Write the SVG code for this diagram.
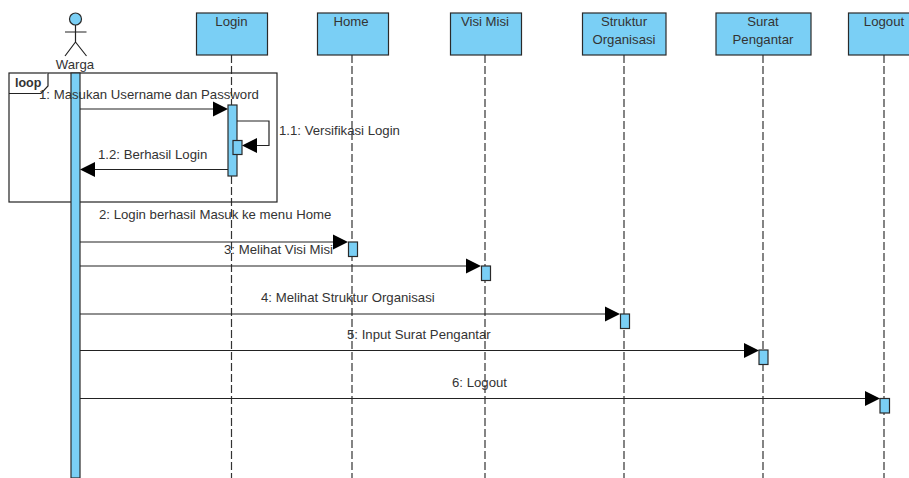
<svg xmlns="http://www.w3.org/2000/svg" width="909" height="478" viewBox="0 0 909 478">
<style>
text{font-family:"Liberation Sans",Arial,sans-serif;font-size:13.200px;fill:#333}
.c{text-anchor:middle}
.box{fill:#7acff5;stroke:#2a2a2a;stroke-width:1.200}
.act{fill:#7acff5;stroke:#2a2a2a;stroke-width:1.200}
.life{stroke:#333;stroke-width:1.200;stroke-dasharray:8 3;fill:none}
.msg{stroke:#222;stroke-width:1.200;fill:none}
.head{fill:#000;stroke:none}
</style>
<rect width="909" height="478" fill="#fff"/>
<g id="lifelines">
<path class="life" d="M231.500 55V478"/>
<path class="life" d="M352 55V478"/>
<path class="life" d="M485 55V478"/>
<path class="life" d="M624 55V478"/>
<path class="life" d="M763 55V478"/>
<path class="life" d="M884 55V478"/>
</g>
<g id="loop-frame">
<rect x="9" y="73" width="268" height="129" fill="none" stroke="#222" stroke-width="1.200"/>
<path d="M9 93.500H41L48 86V73" fill="#fff" stroke="#222" stroke-width="1.200"/>
<text x="15" y="87" style="font-weight:bold;font-size:12.500px">loop</text>
</g>
<g id="warga">
<circle cx="75.500" cy="19" r="6" class="box"/>
<path d="M75.500 25V42M65 32H86.500M75.500 42L65 56M75.500 42L86.500 56" fill="none" stroke="#222" stroke-width="1.200"/>
<text x="75" y="69" class="c">Warga</text>
<rect x="71" y="73" width="9" height="405" class="act"/>
</g>
<g id="login">
<rect x="196.500" y="13" width="71" height="42" class="box"/>
<text x="231.500" y="26" class="c">Login</text>
<rect x="228" y="105" width="9" height="71" class="act"/>
<rect x="233" y="140.500" width="9" height="14" class="act"/>
</g>
<g id="home">
<rect x="317.500" y="13" width="71" height="42" class="box"/>
<text x="351" y="26" class="c">Home</text>
<rect x="348.500" y="242" width="9" height="14.500" class="act"/>
</g>
<g id="visi-misi">
<rect x="450.500" y="13" width="71" height="42" class="box"/>
<text x="485" y="26" class="c">Visi Misi</text>
<rect x="481.500" y="266" width="9" height="14.500" class="act"/>
</g>
<g id="struktur-organisasi">
<rect x="582.500" y="13" width="83.500" height="42" class="box"/>
<text x="624" y="26" class="c">Struktur</text>
<text x="624" y="44" class="c">Organisasi</text>
<rect x="620.500" y="314" width="9" height="14.500" class="act"/>
</g>
<g id="surat-pengantar">
<rect x="716" y="13" width="95" height="42" class="box"/>
<text x="763" y="26" class="c">Surat</text>
<text x="763" y="44" class="c">Pengantar</text>
<rect x="759" y="350" width="9" height="14.500" class="act"/>
</g>
<g id="logout">
<rect x="848.500" y="13" width="72" height="42" class="box"/>
<text x="884" y="26" class="c">Logout</text>
<rect x="880" y="398.500" width="9.500" height="14.500" class="act"/>
</g>
<g id="connectors">
<path class="msg" d="M80 109H213"/><path class="head" d="M213 101.500L228 109L213 116.500Z"/>
<path class="msg" d="M237 121H269V145.500H257"/><path class="head" d="M257 138L242 145.500L257 153Z"/>
<path class="msg" d="M228 169.500H95"/><path class="head" d="M95 162L80 169.500L95 177Z"/>
<path class="msg" d="M80 242H333"/><path class="head" d="M333 234.500L348 242L333 249.500Z"/>
<path class="msg" d="M80 266H466"/><path class="head" d="M466 258.500L481 266L466 273.500Z"/>
<path class="msg" d="M80 314H605"/><path class="head" d="M605 306.500L620 314L605 321.500Z"/>
<path class="msg" d="M80 350.500H744"/><path class="head" d="M744 343L759 350.500L744 358Z"/>
<path class="msg" d="M80 398.500H865"/><path class="head" d="M865 391L880 398.500L865 406Z"/>
</g>
<g id="labels">
<text x="39" y="99">1: Masukan Username dan Password</text>
<text x="279" y="135">1.1: Versifikasi Login</text>
<text x="98" y="159">1.2: Berhasil Login</text>
<text x="99" y="219">2: Login berhasil Masuk ke menu Home</text>
<text x="224" y="254">3: Melihat Visi Misi</text>
<text x="261" y="302">4: Melihat Struktur Organisasi</text>
<text x="347" y="339">5: Input Surat Pengantar</text>
<text x="452" y="387">6: Logout</text>
</g>
</svg>
